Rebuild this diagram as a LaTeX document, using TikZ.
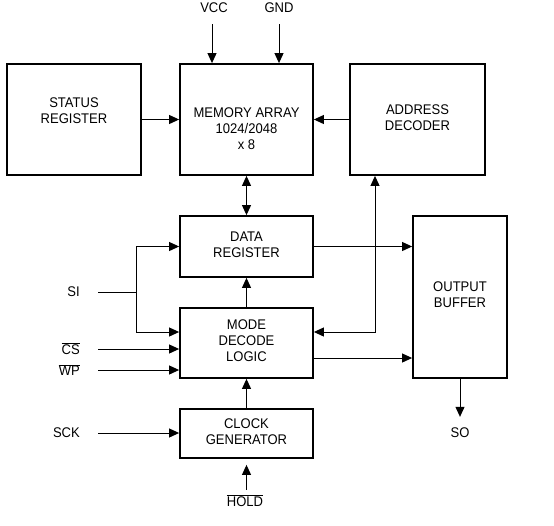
\documentclass[tikz,border=0pt]{standalone}
\usepackage{fontspec}
\setmainfont[FakeStretch=0.93]{Liberation Sans}
\usetikzlibrary{arrows.meta}
\begin{document}
\begin{tikzpicture}[x=1pt,y=-1pt,
  box/.style={draw,line width=1.8pt,minimum width=133pt,inner sep=0pt},
  txt/.style={align=center,font=\fontsize{14}{16}\selectfont,inner sep=0pt},
  lbl/.style={font=\fontsize{14}{16}\selectfont,inner sep=0pt},
  arr/.style={-{Triangle[length=10pt,width=9pt]},line width=1pt},
  darr/.style={{Triangle[length=10pt,width=9pt]}-{Triangle[length=10pt,width=9pt]},line width=1pt},
  wire/.style={line width=1pt}]
\useasboundingbox (0,0) rectangle (554,525);
% boxes
\node[box,minimum width=134pt,minimum height=111pt] (st) at (74,119.5) {};
\node[box,minimum height=111pt] (mem) at (246.5,119.5) {};
\node[box,minimum width=135pt,minimum height=111pt] (ad) at (417.5,119.5) {};
\node[box,minimum height=61pt] (dr) at (246.5,246.5) {};
\node[box,minimum height=70pt] (md) at (246.5,343) {};
\node[box,minimum width=94pt,minimum height=162pt] (ob) at (460,297) {};
\node[box,minimum height=49pt] (ck) at (246.5,433.5) {};
% box texts
\node[txt] (stt) at ([yshift=8.5pt]st.center) {STATUS\\REGISTER};
\node[txt] (memt) at ([yshift=-9.5pt]mem.center) {MEMORY ARRAY\\1024/2048\\x 8};
\node[txt] (adt) at ([yshift=1.5pt]ad.center) {ADDRESS\\DECODER};
\node[txt] (drt) at ([yshift=1.5pt]dr.center) {DATA\\REGISTER};
\node[txt] (mdt) at ([yshift=2pt]md.center) {MODE\\DECODE\\LOGIC};
\node[txt] (obt) at ([yshift=2pt]ob.center) {OUTPUT\\BUFFER};
\node[txt] (ckt) at ([yshift=1.5pt]ck.center) {CLOCK\\GENERATOR};
% pin labels
\node[lbl] (vcc) at (214,8) {VCC};
\node[lbl] (gnd) at (279,8) {GND};
\node[lbl,anchor=east] (si) at (80,292) {SI};
\node[lbl,anchor=east] (cs) at (80,349) {$\overline{\mbox{CS}}$};
\node[lbl,anchor=east] (wp) at (80,370) {$\overline{\mbox{WP}}$};
\node[lbl,anchor=east] (sck) at (80,433) {SCK};
\node[lbl] (so) at (460,433) {SO};
\node[lbl] (hold) at (245,501) {$\overline{\mbox{HOLD}}$};
\coordinate (j) at (136,292);
% connectors
\draw[arr] ([xshift=-2pt,yshift=-11pt]vcc.south) -- ([xshift=-2pt]vcc.south |- mem.north);
\draw[arr] ([yshift=-11pt]gnd.south) -- (gnd.south |- mem.north);
\draw[arr] (st.east) -- (mem.west);
\draw[arr] (ad.west) -- (mem.east);
\draw[darr] (mem.south) -- (dr.north);
\draw[wire,shorten <=18pt] (si.east) -- (j);
\draw[arr] (j) |- (dr.west);
\draw[arr] (j) |- ([yshift=11pt]md.west);
\draw[arr,shorten <=18pt] (cs.east) -- (cs.east -| md.west);
\draw[arr,shorten <=18pt] (wp.east) -- (wp.east -| md.west);
\draw[arr,shorten <=18pt] (sck.east) -- (sck.east -| ck.west);
\draw[arr] (md.north) -- (dr.south);
\draw[arr] (ck.north) -- (md.south);
\draw[darr] ([yshift=11pt]md.east) -| ([xshift=-42.5pt]ad.south);
\draw[arr] (dr.east) -- (dr.east -| ob.west);
\draw[arr] ([yshift=-15pt]md.east) -- ([yshift=-15pt]md.east -| ob.west);
\draw[arr] (ob.south) -- ([yshift=11pt]so.north);
\draw[arr,shorten >=6pt] ([yshift=5pt]hold.north -| ck.south) -- (ck.south);
\end{tikzpicture}
\end{document}
